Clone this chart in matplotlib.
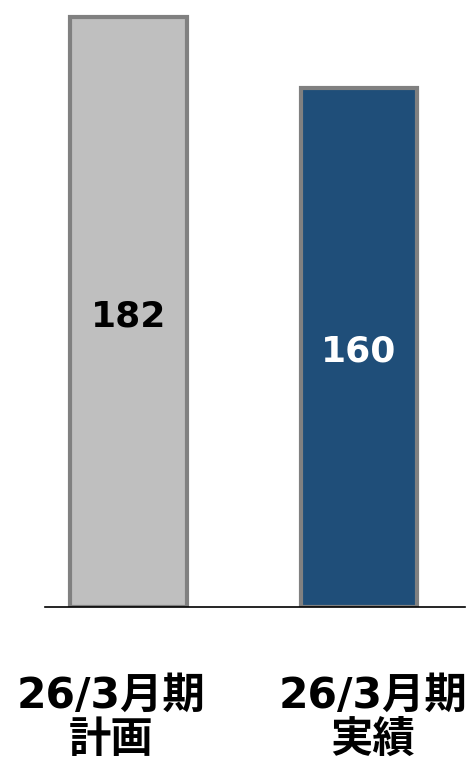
import matplotlib
matplotlib.use("Agg")
import matplotlib.pyplot as plt
import matplotlib.transforms as mtransforms

categories = ["26/3月期\n計画", "26/3月期\n実績"]
values = [182, 160]
bar_colors = ["#BFBFBF", "#1F4E79"]
label_colors = ["#000000", "#FFFFFF"]

fam = ["DejaVu Sans", "Noto Sans CJK JP"]

fig = plt.figure(figsize=(4.73, 7.6), dpi=100)
ax = fig.add_axes([45/473, 1 - 607/760, (465-45)/473, 607/760])

x = list(range(len(values)))
ax.bar(x, values, width=0.507, color=bar_colors, edgecolor="#808080", linewidth=3, zorder=2)
val_trans = mtransforms.offset_copy(ax.transData, fig=fig, x=0, y=-4, units="dots")
for xi, v, c in zip(x, values, label_colors):
    ax.text(xi, v/2, str(v), ha="center", va="center", fontsize=26, fontweight="bold",
            color=c, family=fam, zorder=3, transform=val_trans)

ax.set_xlim(-0.362, 1.46)
ax.set_ylim(0, 187.3)
ax.axhline(0, color="black", linewidth=1.2, zorder=3, clip_on=False)
for s in ax.spines.values():
    s.set_visible(False)
ax.set_yticks([])
ax.set_xticks([])

trans = mtransforms.blended_transform_factory(ax.transData, ax.transAxes)
label_dx = [-0.076, 0.061]
line_y = [-0.1466, -0.2185]
for xi, cat, dx in zip(x, categories, label_dx):
    for line, ly in zip(cat.split("\n"), line_y):
        ax.text(xi + dx, ly, line, transform=trans, ha="center", va="center",
                fontsize=30.5, fontweight="bold", family=fam, clip_on=False)

fig.savefig("out.png", dpi=100)
